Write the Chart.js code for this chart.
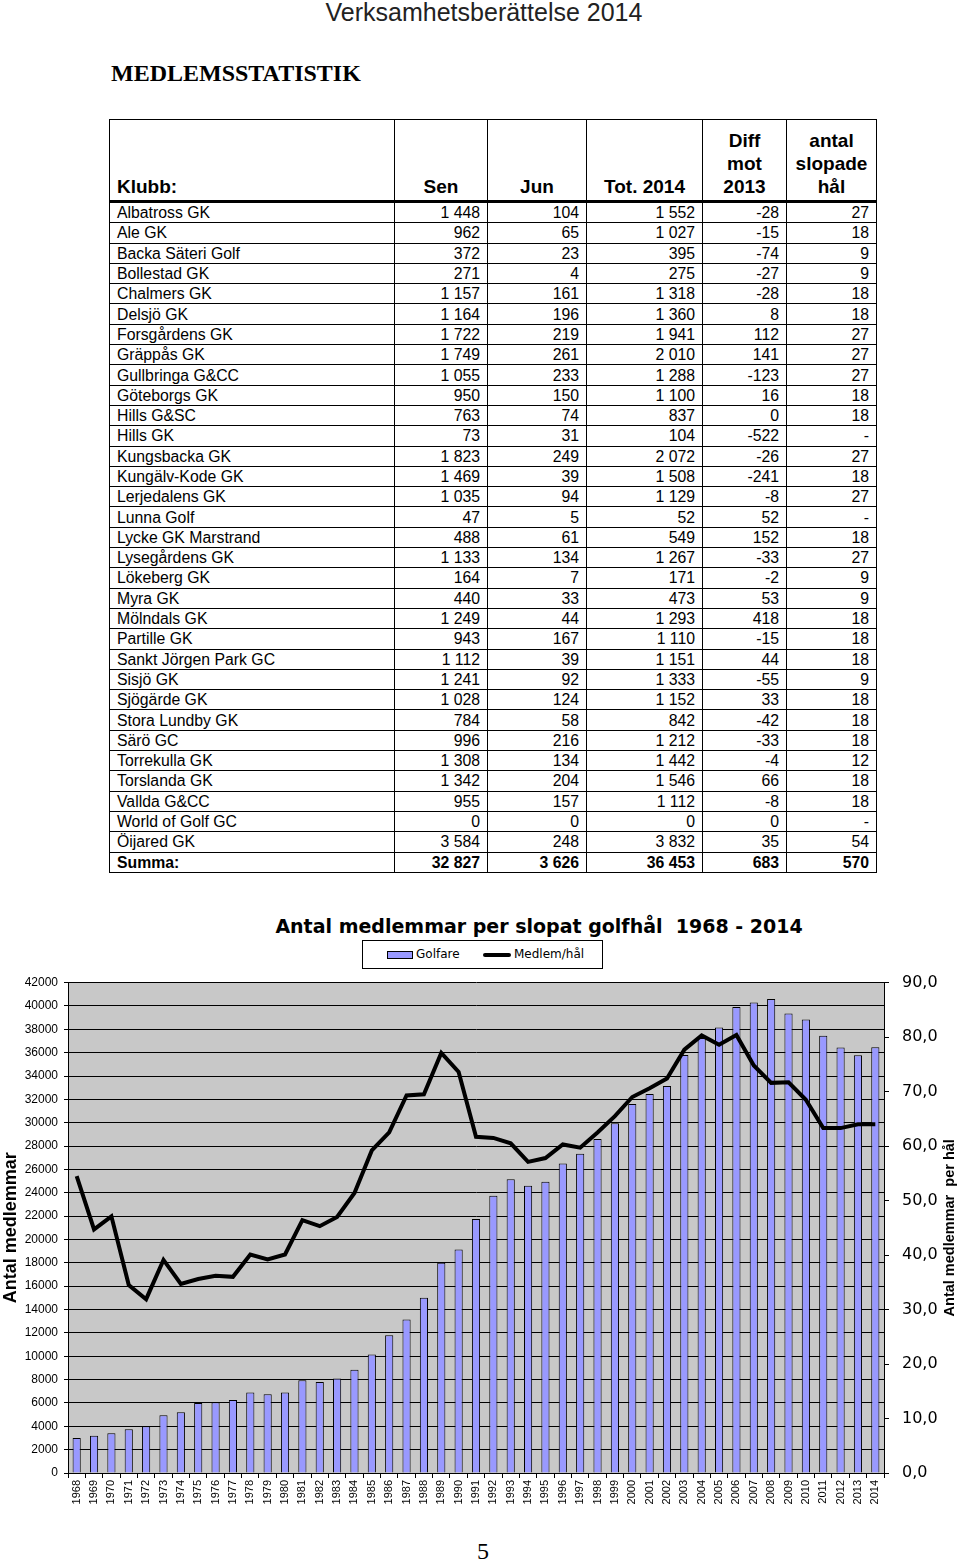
<!DOCTYPE html>
<html lang="sv">
<head>
  <meta charset="UTF-8" />
  <title>Verksamhetsberättelse 2014 - Medlemsstatistik</title>
  <script src="https://cdn.jsdelivr.net/npm/chart.js"></script>
  <style>
    body { margin: 0; background: #fff; }
    .page { position: relative; width: 960px; height: 1563px; overflow: hidden; color: #000; }
    .runhead { position: absolute; top: -2px; left: 0; width: 968px; text-align: center;
      font: 25px "Liberation Sans", Arial, sans-serif; color: #222; }
    .rubrik { position: absolute; top: 60px; left: 111px; font: bold 24px "Liberation Serif", serif; }
    table.stat { position: absolute; left: 109px; top: 119px; border-collapse: collapse; table-layout: fixed;
      width: 767px; font-family: "Liberation Sans", Arial, sans-serif; font-size: 15.8px; }
    table.stat td, table.stat th { border: 1px solid #000; padding: 0 7px; white-space: nowrap; overflow: hidden; }
    table.stat th { font-size: 19px; line-height: 23px; vertical-align: bottom; text-align: center; height: 78px;
      border-bottom: 3px solid #000; padding-bottom: 2px; }
    table.stat th.first { text-align: left; }
    table.stat td { height: 19.3px; line-height: 19px; text-align: right; }
    table.stat td:first-child { text-align: left; }
    table.stat tr.sum td { font-weight: bold; }
    .ctitle { position: absolute; left: 239px; top: 913px; width: 600px; text-align: center; white-space: pre;
      font: bold 19px "DejaVu Sans", Verdana, sans-serif; line-height: 26px; }
    .legend { position: absolute; left: 362px; top: 940px; width: 241px; height: 29px; box-sizing: border-box;
      border: 1px solid #000; font: 12px "DejaVu Sans", Verdana, sans-serif; }
    .legend span { position: absolute; top: 6px; }
    .sw-bar { position: absolute; left: 24px; top: 10px; width: 26px; height: 8px; background: #9999ff; border: 1px solid #000; box-sizing: border-box; }
    .sw-line { position: absolute; left: 120px; top: 12px; width: 28px; height: 4px; background: #000; border-radius: 2px; }
    #chartWrap { position: absolute; left: 0; top: 960px; width: 960px; height: 575px; }
    .pagenr { position: absolute; left: 0; width: 966px; top: 1538px; text-align: center; font: 24px "Liberation Serif", serif; }
  </style>
</head>
<body>
<div class="page">
  <div class="runhead">Verksamhetsberättelse 2014</div>
  <div class="rubrik">MEDLEMSSTATISTIK</div>

  <table class="stat" id="statTable">
    <colgroup>
      <col style="width:285px"><col style="width:93px"><col style="width:99px">
      <col style="width:116px"><col style="width:84px"><col style="width:90px">
    </colgroup>
    <thead>
      <tr>
        <th class="first">Klubb:</th><th>Sen</th><th>Jun</th><th>Tot. 2014</th>
        <th>Diff<br>mot<br>2013</th><th>antal<br>slopade<br>hål</th>
      </tr>
    </thead>
    <tbody></tbody>
  </table>

  <div class="ctitle">Antal medlemmar per slopat golfhål  1968 - 2014</div>
  <div class="legend">
    <div class="sw-bar"></div><span style="left:53px">Golfare</span>
    <div class="sw-line"></div><span style="left:151px">Medlem/hål</span>
  </div>

  <div id="chartWrap"><canvas id="medlemChart" width="960" height="575"></canvas></div>

  <div class="pagenr">5</div>
</div>

<script>
  // Klubbtabell: namn, sen, jun, tot 2014, diff mot 2013, antal slopade hål
  const klubbar = [
    ['Albatross GK', '1 448', '104', '1 552', '-28', '27'],
    ['Ale GK', '962', '65', '1 027', '-15', '18'],
    ['Backa Säteri Golf', '372', '23', '395', '-74', '9'],
    ['Bollestad GK', '271', '4', '275', '-27', '9'],
    ['Chalmers GK', '1 157', '161', '1 318', '-28', '18'],
    ['Delsjö GK', '1 164', '196', '1 360', '8', '18'],
    ['Forsgårdens GK', '1 722', '219', '1 941', '112', '27'],
    ['Gräppås GK', '1 749', '261', '2 010', '141', '27'],
    ['Gullbringa G&CC', '1 055', '233', '1 288', '-123', '27'],
    ['Göteborgs GK', '950', '150', '1 100', '16', '18'],
    ['Hills G&SC', '763', '74', '837', '0', '18'],
    ['Hills GK', '73', '31', '104', '-522', '-'],
    ['Kungsbacka GK', '1 823', '249', '2 072', '-26', '27'],
    ['Kungälv-Kode GK', '1 469', '39', '1 508', '-241', '18'],
    ['Lerjedalens GK', '1 035', '94', '1 129', '-8', '27'],
    ['Lunna Golf', '47', '5', '52', '52', '-'],
    ['Lycke GK Marstrand', '488', '61', '549', '152', '18'],
    ['Lysegårdens GK', '1 133', '134', '1 267', '-33', '27'],
    ['Lökeberg GK', '164', '7', '171', '-2', '9'],
    ['Myra GK', '440', '33', '473', '53', '9'],
    ['Mölndals GK', '1 249', '44', '1 293', '418', '18'],
    ['Partille GK', '943', '167', '1 110', '-15', '18'],
    ['Sankt Jörgen Park GC', '1 112', '39', '1 151', '44', '18'],
    ['Sisjö GK', '1 241', '92', '1 333', '-55', '9'],
    ['Sjögärde GK', '1 028', '124', '1 152', '33', '18'],
    ['Stora Lundby GK', '784', '58', '842', '-42', '18'],
    ['Särö GC', '996', '216', '1 212', '-33', '18'],
    ['Torrekulla GK', '1 308', '134', '1 442', '-4', '12'],
    ['Torslanda GK', '1 342', '204', '1 546', '66', '18'],
    ['Vallda G&CC', '955', '157', '1 112', '-8', '18'],
    ['World of Golf GC', '0', '0', '0', '0', '-'],
    ['Öijared GK', '3 584', '248', '3 832', '35', '54']
  ];
  const summa = ['Summa:', '32 827', '3 626', '36 453', '683', '570'];

  const tbody = document.querySelector('#statTable tbody');
  klubbar.concat([summa]).forEach((rad, i) => {
    const tr = document.createElement('tr');
    if (i === klubbar.length) tr.className = 'sum';
    rad.forEach(v => {
      const td = document.createElement('td');
      td.textContent = v;
      tr.appendChild(td);
    });
    tbody.appendChild(tr);
  });

  // Diagramdata 1968 - 2014
  const years = ['1968','1969','1970','1971','1972','1973','1974','1975','1976','1977',
    '1978','1979','1980','1981','1982','1983','1984','1985','1986','1987',
    '1988','1989','1990','1991','1992','1993','1994','1995','1996','1997',
    '1998','1999','2000','2001','2002','2003','2004','2005','2006','2007',
    '2008','2009','2010','2011','2012','2013','2014'];

  // antal golfare (vänster axel)
  const golfare = [3000, 3200, 3400, 3750, 4000, 4950, 5200, 6000, 6050, 6250,
    6900, 6750, 6900, 7950, 7800, 8100, 8850, 10150, 11800, 13150,
    15000, 18000, 19150, 21750, 23750, 25150, 24600, 24950, 26500, 27350,
    28600, 29950, 31600, 32450, 33150, 35800, 37250, 38150, 39900, 40300,
    40600, 39350, 38850, 37450, 36450, 35770, 36453];

  // medlemmar per slopat hål (höger axel)
  const medlemPerHal = [54.5, 44.7, 47.1, 34.5, 31.9, 39.1, 34.7, 35.6, 36.2, 36.0,
    40.1, 39.2, 40.1, 46.4, 45.3, 47.0, 51.4, 59.2, 62.5, 69.3,
    69.5, 77.1, 73.6, 61.7, 61.5, 60.5, 57.1, 57.8, 60.3, 59.7,
    62.5, 65.5, 69.0, 70.6, 72.4, 77.7, 80.3, 78.6, 80.4, 74.8,
    71.6, 71.7, 68.5, 63.3, 63.3, 64.0, 64.0];

  const rightTitle = 'Antal medlemmar  per hål';

  // grå bakgrund i diagramytan
  const plotBg = {
    id: 'plotBg',
    beforeDraw(chart) {
      const a = chart.chartArea;
      const ctx = chart.ctx;
      ctx.save();
      ctx.fillStyle = '#c8c8c8';
      ctx.fillRect(a.left, a.top, a.right - a.left, a.bottom - a.top);
      ctx.restore();
    }
  };

  // höger axeltitel, läses nerifrån och upp
  const rightAxisTitle = {
    id: 'rightAxisTitle',
    afterDraw(chart) {
      const a = chart.chartArea;
      const ctx = chart.ctx;
      ctx.save();
      ctx.translate(950, (a.top + a.bottom) / 2);
      ctx.rotate(-Math.PI / 2);
      ctx.font = 'bold 14.5px "Liberation Sans", Arial, sans-serif';
      ctx.fillStyle = '#000';
      ctx.textAlign = 'center';
      ctx.textBaseline = 'middle';
      ctx.fillText(rightTitle, 0, 0);
      ctx.restore();
    }
  };

  const ctx = document.getElementById('medlemChart').getContext('2d');
  const medlemChart = new Chart(ctx, {
    type: 'bar',
    data: {
      labels: years,
      datasets: [
        {
          type: 'line',
          label: 'Medlem/hål',
          data: medlemPerHal,
          yAxisID: 'y1',
          borderColor: '#000',
          borderWidth: 4,
          pointRadius: 0,
          tension: 0,
          order: 0
        },
        {
          label: 'Golfare',
          data: golfare,
          yAxisID: 'y',
          backgroundColor: '#9999ff',
          borderColor: '#000',
          borderWidth: 1,
          barPercentage: 0.47,
          categoryPercentage: 1.0,
          order: 1
        }
      ]
    },
    options: {
      responsive: false,
      animation: false,
      layout: { padding: { top: 0, bottom: 0, left: 0, right: 0 } },
      plugins: {
        legend: { display: false },
        title: { display: false },
        tooltip: { enabled: false }
      },
      scales: {
        x: {
          afterFit(scale) { scale.height = 62; },
          grid: { drawOnChartArea: false, drawTicks: true, tickLength: 5, color: '#000', offset: true },
          border: { color: '#000', width: 1 },
          ticks: {
            autoSkip: false, minRotation: 90, maxRotation: 90, padding: 2, color: '#000',
            font: { family: '"Liberation Sans", Arial, sans-serif', size: 11 }
          }
        },
        y: {
          position: 'left',
          min: 0, max: 42000,
          afterFit(scale) { scale.width = 68; },
          grid: { color: '#000', lineWidth: 1, tickLength: 4 },
          border: { color: '#000', width: 1 },
          ticks: {
            stepSize: 2000, autoSkip: false, padding: 6, color: '#000',
            font: { family: '"Liberation Sans", Arial, sans-serif', size: 12 },
            callback: v => String(v)
          },
          title: {
            display: true, text: 'Antal medlemmar', color: '#000', padding: 0,
            font: { family: '"Liberation Sans", Arial, sans-serif', size: 18, weight: 'bold' }
          }
        },
        y1: {
          position: 'right',
          min: 0, max: 90,
          afterFit(scale) { scale.width = 76; },
          grid: { drawOnChartArea: false, drawTicks: true, tickLength: 5, color: '#000' },
          border: { color: '#000', width: 1 },
          ticks: {
            stepSize: 10, padding: 13, color: '#000',
            font: { family: '"DejaVu Sans", Verdana, sans-serif', size: 16 },
            callback: v => v.toFixed(1).replace('.', ',')
          }
        }
      }
    },
    plugins: [plotBg, rightAxisTitle]
  });
</script>
</body>
</html>
